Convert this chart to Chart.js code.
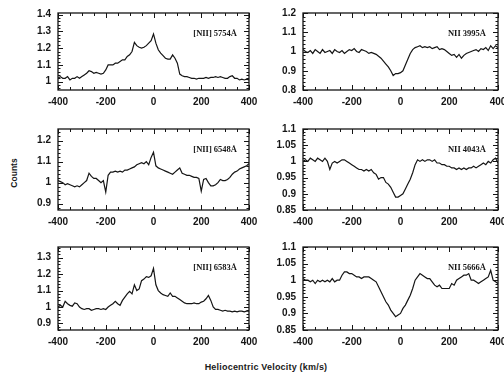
<!DOCTYPE html>
<html><head><meta charset="utf-8">
<script src="https://cdn.jsdelivr.net/npm/chart.js@4.4.1/dist/chart.umd.min.js"></script>
<style>
html,body{margin:0;padding:0;background:#fff;width:504px;height:380px;overflow:hidden;position:relative;}
canvas{position:absolute;}
.t{position:absolute;font-family:"Liberation Sans",Arial,sans-serif;font-weight:bold;color:#1a1a1a;white-space:nowrap;}
</style></head><body>
<div class="t" style="left:14px;top:173px;font-size:8.5px;font-family:'Liberation Sans Narrow','Liberation Sans',sans-serif;transform:translate(-50%,-50%) rotate(-90deg);">Counts</div>
<div class="t" style="left:266px;top:367px;font-size:9px;letter-spacing:0.2px;transform:translate(-50%,-50%);">Heliocentric Velocity (km/s)</div>
<canvas id="c0"></canvas><canvas id="c1"></canvas><canvas id="c2"></canvas>
<canvas id="c3"></canvas><canvas id="c4"></canvas><canvas id="c5"></canvas>
<script>
// ---- DATA ----
const velocities = [-400,-390,-380,-370,-360,-350,-340,-330,-320,-310,
  -300,-290,-280,-270,-260,-250,-240,-230,-220,-210,
  -200,-190,-180,-170,-160,-150,-140,-130,-120,-110,
  -100,-90,-80,-70,-60,-50,-40,-30,-20,-10,
  0,10,20,30,40,50,60,70,80,90,
  100,110,120,130,140,150,160,170,180,190,
  200,210,220,230,240,250,260,270,280,290,
  300,310,320,330,340,350,360,370,380,390,400];

const xTickLabels = [-400,-200,0,200,400];

const lineNames = ["[NII] 5754Å","NII 3995Å","[NII] 6548Å","NII 4043Å","[NII] 6583Å","NII 5666Å"];

const nii5754 = [1.02,1.03,1.02,1.02,1.03,1.01,1.02,1.02,1.03,1.02,
  1.03,1.04,1.05,1.065,1.06,1.05,1.055,1.05,1.045,1.05,
  1.07,1.10,1.10,1.10,1.11,1.11,1.12,1.13,1.13,1.15,
  1.16,1.18,1.235,1.215,1.205,1.20,1.205,1.215,1.23,1.245,
  1.285,1.23,1.19,1.17,1.155,1.14,1.135,1.135,1.16,1.14,
  1.11,1.045,1.035,1.03,1.03,1.025,1.02,1.02,1.015,1.02,
  1.02,1.02,1.025,1.02,1.025,1.025,1.03,1.025,1.03,1.025,
  1.02,1.02,1.03,1.035,1.02,1.02,1.01,1.015,1.01,1.015,1.01];

const nii3995 = [1.01,1.00,0.995,1.005,0.99,1.01,1.00,0.99,1.01,0.995,
  1.00,1.005,0.99,1.01,1.00,0.995,1.005,0.99,1.00,1.01,
  1.005,1.015,1.00,0.995,1.01,1.005,1.00,0.99,0.995,0.99,
  0.985,0.975,0.965,0.95,0.935,0.92,0.90,0.875,0.885,0.885,
  0.89,0.90,0.93,0.96,0.99,1.01,1.02,1.025,1.03,1.02,
  1.025,1.02,1.025,1.015,1.02,1.025,1.01,1.015,1.01,1.00,
  0.99,0.98,0.985,0.97,0.985,0.965,0.98,0.99,0.995,1.00,
  1.005,1.01,1.00,1.015,1.01,1.02,1.005,1.03,1.015,1.03,1.02];

const nii6548 = [1.01,1.005,1.00,0.99,0.995,0.99,0.985,0.98,0.985,0.98,
  0.99,1.00,1.01,1.045,1.03,1.02,1.02,1.01,1.00,1.01,
  0.955,1.035,1.05,1.05,1.055,1.05,1.055,1.05,1.06,1.06,
  1.065,1.07,1.075,1.085,1.09,1.095,1.09,1.10,1.085,1.12,
  1.145,1.08,1.07,1.065,1.06,1.055,1.05,1.045,1.04,1.05,
  1.06,1.07,1.045,1.04,1.035,1.035,1.03,1.025,1.025,1.02,
  0.96,1.015,1.02,1.00,0.985,0.985,0.99,1.00,1.015,1.01,
  1.01,1.015,1.025,1.04,1.05,1.055,1.065,1.07,1.075,1.08,1.09];

const nii4043 = [1.00,1.005,1.00,1.01,1.005,1.00,1.01,1.005,1.00,1.01,
  1.00,0.975,0.995,1.00,0.995,1.00,1.005,1.005,1.00,0.995,
  0.99,0.985,0.98,0.975,0.975,0.97,0.975,0.97,0.975,0.965,
  0.96,0.945,0.95,0.95,0.935,0.93,0.92,0.905,0.89,0.89,
  0.895,0.90,0.915,0.93,0.945,0.965,0.99,1.005,1.00,1.005,
  1.00,1.005,1.005,1.00,1.005,0.995,0.995,0.99,0.99,0.985,
  0.985,0.98,0.98,0.975,0.98,0.975,0.98,0.975,0.98,0.98,
  0.985,0.98,0.985,0.99,0.995,0.99,1.00,0.995,1.005,1.01,0.995];

const nii6583 = [1.00,1.01,1.00,1.035,1.02,1.01,1.005,1.025,1.02,1.00,
  0.99,0.985,0.99,0.99,0.98,0.985,0.99,0.99,0.985,0.99,
  0.985,1.00,1.01,1.02,1.035,1.02,1.01,1.04,1.06,1.08,
  1.095,1.08,1.135,1.10,1.11,1.16,1.17,1.185,1.18,1.19,
  1.235,1.135,1.10,1.085,1.075,1.07,1.065,1.085,1.065,1.065,
  1.055,1.045,1.035,1.025,1.02,1.02,1.02,1.025,1.02,1.02,
  1.03,1.035,1.05,1.07,1.04,1.00,0.985,0.985,0.98,0.975,
  0.98,0.975,0.975,0.97,0.975,0.97,0.975,0.975,0.97,0.975,0.975];

const nii5666 = [1.005,1.00,1.00,0.995,1.00,0.99,1.00,0.995,1.00,0.995,
  1.00,0.995,1.005,0.995,1.00,1.00,1.015,1.025,1.025,1.02,
  1.02,1.015,1.01,1.01,1.005,1.01,1.01,1.01,1.005,1.00,
  0.995,0.98,0.965,0.95,0.935,0.925,0.91,0.90,0.89,0.895,
  0.90,0.915,0.925,0.94,0.955,0.975,1.00,1.01,1.02,1.015,
  1.01,1.005,1.005,0.995,0.985,0.98,0.985,0.975,0.975,0.975,
  0.975,0.99,0.985,1.00,1.005,1.01,1.015,1.015,1.02,1.00,
  1.00,0.995,0.99,0.995,1.00,1.005,1.01,1.03,1.00,0.995,0.99];

const yTicks5754 = [1,1.1,1.2,1.3,1.4];
const yTicks3995 = [0.8,0.9,1,1.1,1.2];
const yTicks6548 = [0.9,1,1.1,1.2];
const yTicks4043 = [0.85,0.9,0.95,1,1.05,1.1];
const yTicks6583 = [0.9,1,1.1,1.2,1.3];
const yTicks5666 = [0.85,0.9,0.95,1,1.05,1.1];

// ---- LAYOUT / STYLE ----
const panels = [
  {id:'c0', series:nii5754, name:lineNames[0], yTicks:yTicks5754, ymin:0.95, ymax:1.41, minor:0.02, left:0,   top:0,   w:272, h:110, yW:58, padR:23},
  {id:'c1', series:nii3995, name:lineNames[1], yTicks:yTicks3995, ymin:0.8,  ymax:1.2,  minor:0.02, left:252, top:0,   w:272, h:110, yW:51, padR:26},
  {id:'c2', series:nii6548, name:lineNames[2], yTicks:yTicks6548, ymin:0.87, ymax:1.255,minor:0.02, left:0,   top:116, w:272, h:114, yW:58, padR:23},
  {id:'c3', series:nii4043, name:lineNames[3], yTicks:yTicks4043, ymin:0.85, ymax:1.1,  minor:0.01, left:252, top:116, w:272, h:114, yW:51, padR:26},
  {id:'c4', series:nii6583, name:lineNames[4], yTicks:yTicks6583, ymin:0.86, ymax:1.365,minor:0.02, left:0,   top:234, w:272, h:116, yW:58, padR:23},
  {id:'c5', series:nii5666, name:lineNames[5], yTicks:yTicks5666, ymin:0.85, ymax:1.1,  minor:0.01, left:252, top:234, w:272, h:116, yW:51, padR:26}
];

const INK = '#151515';
const tickFont = {family:"'Liberation Sans', Arial, sans-serif", size:10, weight:'bold'};

const framePlugin = {
  id:'frame',
  afterDatasetsDraw(chart, args, opts){
    const {ctx, chartArea:a, scales:{x, y}} = chart;
    ctx.save();
    ctx.strokeStyle = INK;
    ctx.lineWidth = 1.3;
    ctx.strokeRect(a.left, a.top, a.right - a.left, a.bottom - a.top);
    ctx.lineWidth = 1;
    ctx.beginPath();
    for (let v = -400; v <= 400; v += 50) {
      const px = Math.round(x.getPixelForValue(v)) + 0.5;
      const len = (v % 200 === 0) ? 5 : 3;
      ctx.moveTo(px, a.bottom); ctx.lineTo(px, a.bottom - len);
      ctx.moveTo(px, a.top); ctx.lineTo(px, a.top + len);
    }
    const st = opts.minor;
    const n0 = Math.ceil(y.min / st - 1e-6), n1 = Math.floor(y.max / st + 1e-6);
    for (let k = n0; k <= n1; k++) {
      const v = k * st;
      const major = opts.yTicks.some(t => Math.abs(t - v) < 1e-6);
      const py = Math.round(y.getPixelForValue(v)) + 0.5;
      const len = major ? 5 : 2.5;
      ctx.moveTo(a.left, py); ctx.lineTo(a.left + len, py);
      ctx.moveTo(a.right, py); ctx.lineTo(a.right - len, py);
    }
    ctx.stroke();
    ctx.fillStyle = INK;
    ctx.font = "bold 8.5px 'Liberation Serif', 'DejaVu Serif', serif";
    ctx.textAlign = 'right';
    ctx.textBaseline = 'middle';
    ctx.fillText(opts.name, a.right - 12, a.top + 21);
    ctx.restore();
  }
};

panels.forEach(p => {
  const cv = document.getElementById(p.id);
  cv.width = p.w; cv.height = p.h;
  cv.style.left = p.left + 'px'; cv.style.top = p.top + 'px';
  cv.style.width = p.w + 'px'; cv.style.height = p.h + 'px';
  new Chart(cv.getContext('2d'), {
    type:'line',
    data:{datasets:[{
      data: velocities.map((v,i) => ({x:v, y:p.series[i]})),
      borderColor: INK, borderWidth: 1.2, pointRadius: 0, tension: 0, fill: false
    }]},
    options:{
      responsive:false, animation:false, devicePixelRatio:1,
      layout:{padding:{left:0, right:p.padR, top:11, bottom:0}},
      plugins:{legend:{display:false}, tooltip:{enabled:false},
        frame:{minor:p.minor, yTicks:p.yTicks, name:p.name}},
      scales:{
        x:{type:'linear', min:-400, max:400,
          afterBuildTicks: s => { s.ticks = xTickLabels.map(v => ({value:v})); },
          afterFit: s => { s.height = 20; },
          grid:{display:false, drawTicks:false}, border:{display:false},
          ticks:{font:tickFont, color:INK, padding:6, maxRotation:0, autoSkip:false}
        },
        y:{type:'linear', min:p.ymin, max:p.ymax,
          afterBuildTicks: s => { s.ticks = p.yTicks.map(v => ({value:v})); },
          afterFit: s => { s.width = p.yW; },
          grid:{display:false, drawTicks:false}, border:{display:false},
          ticks:{font:tickFont, color:INK, padding:7, autoSkip:false,
            callback: v => String(Number(v.toFixed(2)))}
        }
      }
    },
    plugins:[framePlugin]
  });
});
</script>
</body></html>
